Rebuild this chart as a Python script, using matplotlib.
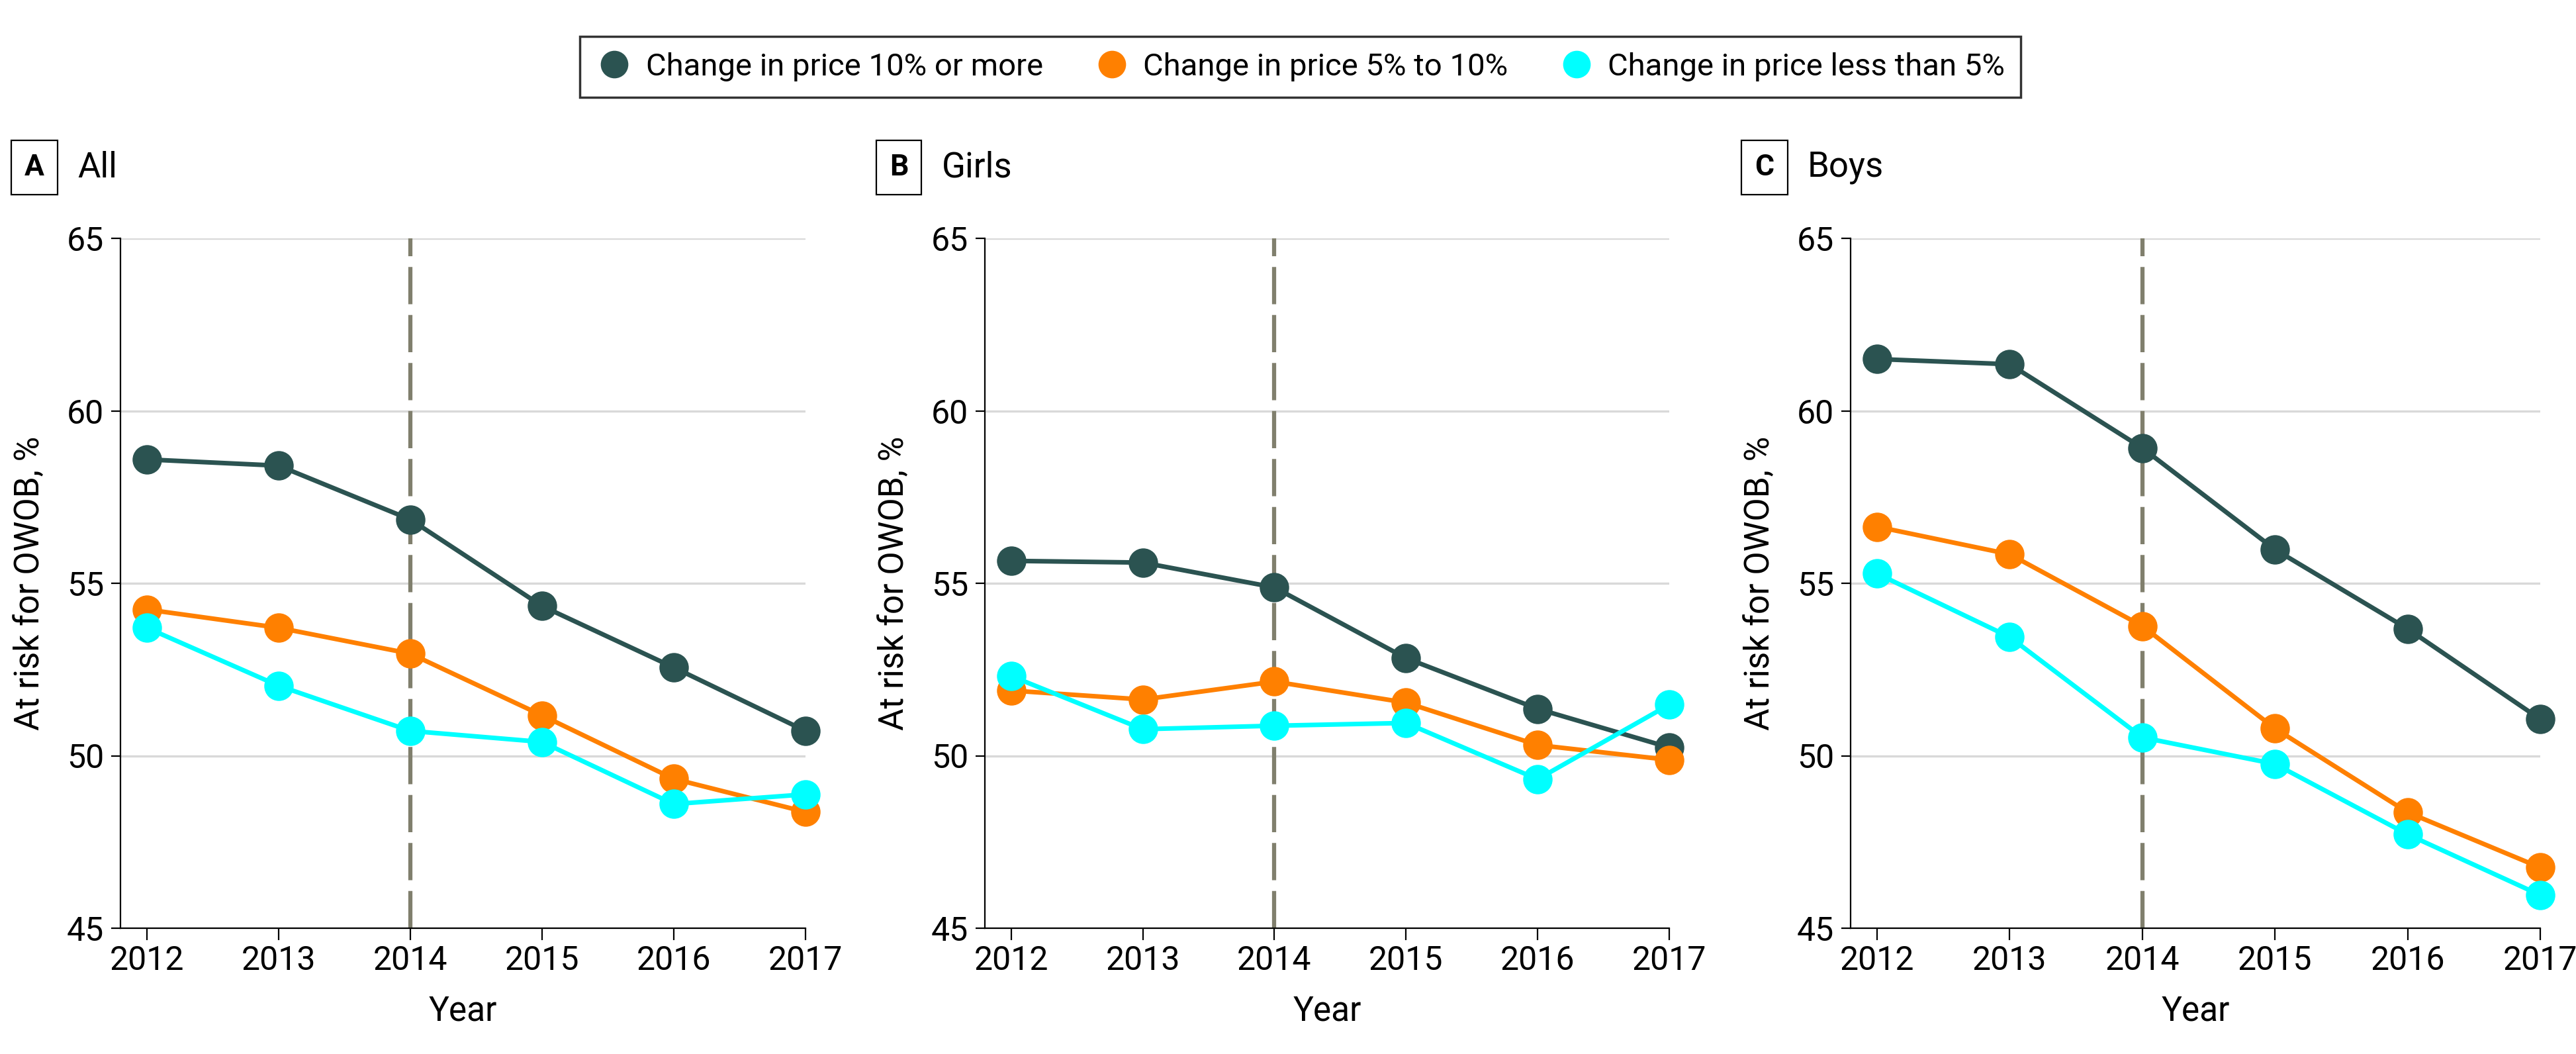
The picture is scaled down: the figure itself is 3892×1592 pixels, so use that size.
"""
Riesgo de OWOB por cambio de precio, 2012-2017
Paneles: All, Girls, Boys
"""
import numpy as np
import matplotlib
matplotlib.use("Agg")
import matplotlib.pyplot as plt
from matplotlib.lines import Line2D

plt.rcParams['font.family'] = ['Roboto', 'DejaVu Sans']

# Datos
years = [2012, 2013, 2014, 2015, 2016, 2017]
series_names = ['Change in price 10% or more', 'Change in price 5% to 10%',
                'Change in price less than 5%']
panel_letters = ['A', 'B', 'C']
panel_titles = ['All', 'Girls', 'Boys']

all_10 = [58.59, 58.41, 56.85, 54.34, 52.56, 50.72]
all_5 = [54.24, 53.71, 52.96, 51.17, 49.33, 48.37]
all_lt5 = [53.71, 52.03, 50.72, 50.40, 48.60, 48.88]

girls_10 = [55.65, 55.60, 54.88, 52.83, 51.36, 50.24]
girls_5 = [51.89, 51.63, 52.15, 51.54, 50.31, 49.88]
girls_lt5 = [52.31, 50.77, 50.87, 50.95, 49.32, 51.48]

boys_10 = [61.50, 61.35, 58.92, 55.98, 53.68, 51.06]
boys_5 = [56.64, 55.84, 53.76, 50.79, 48.36, 46.76]
boys_lt5 = [55.28, 53.44, 50.53, 49.76, 47.72, 45.96]

yticks = [45, 50, 55, 60, 65]
policy_year = 2014

colores = ['#2b5351', '#ff8000', '#00ffff']
panel_data = [[all_10, all_5, all_lt5],
              [girls_10, girls_5, girls_lt5],
              [boys_10, boys_5, boys_lt5]]

# Figura
W, H = 3892, 1592
fig = plt.figure(figsize=(W / 100, H / 100), dpi=100)

ax_left_px = [182, 1488, 2796]
ax_right_px = [1217, 2522, 3838]
ax_top_px, ax_bot_px = 360, 1402

for i in range(3):
    l = ax_left_px[i] / W
    w = (ax_right_px[i] - ax_left_px[i]) / W
    b = 1 - ax_bot_px / H
    h = (ax_bot_px - ax_top_px) / H
    ax = fig.add_axes([l, b, w, h])
    for j in range(3):
        ax.plot(years, panel_data[i][j], '-o', color=colores[j], lw=5,
                markersize=31, zorder=3 + j * 0.1, clip_on=False)
    ax.plot([policy_year, policy_year], [45, 65], color='#807f6d', lw=4.5,
            dashes=(9, 2.6), zorder=2)
    ax.set_xlim(2011.8, 2017)
    ax.set_ylim(45, 65)
    ax.set_xticks(years)
    ax.set_yticks(yticks)
    ax.yaxis.grid(True, color='#d9d9d9', lw=2.4)
    ax.set_axisbelow(True)
    for s in ['top', 'right']:
        ax.spines[s].set_visible(False)
    for s in ['left', 'bottom']:
        ax.spines[s].set_linewidth(1.6)
    ax.tick_params(axis='both', labelsize=36, width=1.6, length=10, pad=8)
    ax.tick_params(axis='x', length=13, pad=5)
    ax.set_xlabel('Year', fontsize=37, labelpad=20)
    ax.set_ylabel('At risk for OWOB, %', fontsize=37, labelpad=22)
    # Etiqueta del panel
    bx = (ax_left_px[i] - 166 + 36) / W
    by = 1 - 253 / H
    fig.text(bx, by, panel_letters[i], fontsize=32, fontweight='bold',
             ha='center', va='center',
             bbox=dict(boxstyle='square,pad=0.45', fc='white', ec='black', lw=1.6))
    fig.text((ax_left_px[i] - 166 + 101) / W, by, panel_titles[i], fontsize=38,
             ha='left', va='center')

# Leyenda
handles = [Line2D([], [], ls='none', marker='o', markersize=29, color=c) for c in colores]
leg = fig.legend(handles, series_names, loc='center', ncol=3,
                 bbox_to_anchor=(((886 + 3043) / 2) / W, 1 - 101 / H),
                 fontsize=34, frameon=True, fancybox=False, edgecolor='black',
                 handletextpad=0.4, columnspacing=1.6, borderpad=0.5,
                 handlelength=1.2)
leg.get_frame().set_linewidth(2.5)

fig.savefig('out.png', dpi=100)
